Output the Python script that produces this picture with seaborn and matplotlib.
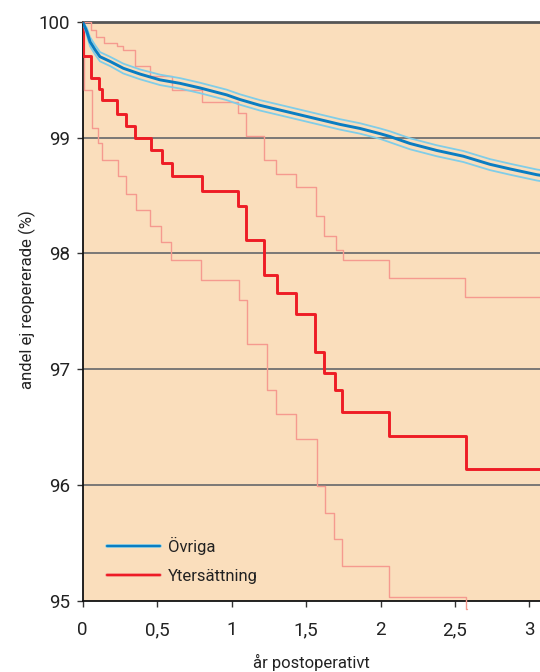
import matplotlib
matplotlib.use("Agg")
import matplotlib.pyplot as plt
import matplotlib.patheffects as pe
from matplotlib.lines import Line2D
import seaborn as sns
import pandas as pd

# ---------------- data ----------------
series_names = ["Övriga", "Ytersättning"]

# Ytersättning (red) – Kaplan-Meier estimate and 95% CI
red_t = [0, 0.004, 0.054, 0.107, 0.128, 0.228, 0.291, 0.352, 0.457, 0.53, 0.598,
         0.80, 1.045, 1.095, 1.22, 1.307, 1.432, 1.557, 1.623, 1.694, 1.739,
         2.055, 2.572, 3.1]
red_y = [100, 99.71, 99.52, 99.42, 99.33, 99.205, 99.10, 99.00, 98.89, 98.78, 98.67,
         98.54, 98.41, 98.12, 97.81, 97.655, 97.48, 97.15, 96.97, 96.82, 96.63,
         96.42, 96.14, 96.14]

red_up_t = [0, 0.055, 0.09, 0.14, 0.23, 0.27, 0.35, 0.45, 0.60, 0.80, 1.045, 1.10,
            1.22, 1.30, 1.43, 1.57, 1.62, 1.70, 1.745, 2.055, 2.57, 3.1]
red_up_y = [100, 99.93, 99.87, 99.82, 99.79, 99.76, 99.62, 99.53, 99.41, 99.31, 99.21,
            99.015, 98.81, 98.69, 98.57, 98.32, 98.15, 98.03, 97.94, 97.79, 97.62, 97.62]

red_lo_t = [0, 0.01, 0.065, 0.105, 0.13, 0.24, 0.29, 0.355, 0.455, 0.525, 0.595,
            0.795, 1.05, 1.105, 1.24, 1.30, 1.435, 1.575, 1.63, 1.69, 1.74, 2.055,
            2.575, 2.58]
red_lo_y = [100, 99.41, 99.08, 98.95, 98.81, 98.67, 98.51, 98.375, 98.24, 98.10, 97.94,
            97.77, 97.60, 97.22, 96.82, 96.61, 96.40, 95.99, 95.76, 95.53, 95.30, 95.03,
            94.93, 94.93]

# Övriga (blue) – estimate and 95% CI
blue_t = [0, 0.027, 0.049, 0.083, 0.116, 0.183, 0.273, 0.385, 0.519, 0.653, 0.788,
          0.967, 1.056, 1.19, 1.37, 1.549, 1.728, 1.862, 1.997, 2.064, 2.198, 2.377,
          2.556, 2.735, 2.87, 3.05, 3.1]
blue_y = [100, 99.92, 99.83, 99.76, 99.70, 99.66, 99.60, 99.55, 99.50, 99.47, 99.43,
          99.37, 99.33, 99.28, 99.225, 99.17, 99.115, 99.08, 99.035, 99.01, 98.95, 98.89,
          98.84, 98.77, 98.73, 98.68, 98.67]
blue_up = [100, 99.95, 99.87, 99.80, 99.74, 99.70, 99.64, 99.59, 99.545, 99.515, 99.475,
           99.415, 99.375, 99.325, 99.27, 99.215, 99.16, 99.125, 99.08, 99.055, 98.995,
           98.935, 98.885, 98.815, 98.775, 98.725, 98.715]
blue_lo = [100, 99.89, 99.79, 99.72, 99.66, 99.62, 99.555, 99.505, 99.455, 99.425, 99.385,
           99.325, 99.285, 99.235, 99.18, 99.125, 99.07, 99.035, 98.99, 98.96, 98.90,
           98.84, 98.79, 98.72, 98.68, 98.63, 98.62]

x_ticks = [0, 0.5, 1, 1.5, 2, 2.5, 3]
x_ticklabels = ["0", "0,5", "1", "1,5", "2", "2,5", "3"]
y_ticks = [95, 96, 97, 98, 99, 100]
y_ticklabels = ["95", "96", "97", "98", "99", "100"]
x_label = "år postoperativt"
y_label = "andel ej reopererade (%)"

# ---------------- style ----------------
sns.set_theme(style="white")
FONT = ["Liberation Sans Narrow", "Roboto", "DejaVu Sans"]
plt.rcParams["font.family"] = FONT

BG = "#FADEBC"
RED = "#EE1C25"
RED_L = "#F59A8F"
BLUE = "#0A7DC2"
BLUE_L = "#80CDE8"
GRID = "#707070"

fig = plt.figure(figsize=(5.40, 6.72), dpi=100)
W, H = 540, 672
x0, x1, y0, y1 = 82.7, 540, 22, 600.5
ax = fig.add_axes([x0 / W, 1 - y1 / H, (x1 - x0) / W, (y1 - y0) / H])
ax.set_facecolor(BG)


def draw(t, y, color, lw, z, clip=True, steps=True):
    df = pd.DataFrame({"t": t, "y": y})
    kw = {"drawstyle": "steps-post"} if steps else {}
    sns.lineplot(data=df, x="t", y="y", ax=ax, color=color, lw=lw,
                 estimator=None, sort=False, zorder=z, clip_on=clip, **kw)


draw(red_up_t, red_up_y, RED_L, 1.0, 3)
draw(red_lo_t, red_lo_y, RED_L, 1.0, 3, clip=False)
draw(red_t, red_y, RED, 2.1, 4)
draw(blue_t, blue_up, BLUE_L, 1.3, 5, steps=False)
draw(blue_t, blue_lo, BLUE_L, 1.3, 5, steps=False)
draw(blue_t, blue_y, BLUE, 2.1, 6, steps=False)

ax.set_xlim(0, (x1 - x0) / 148.9)
ax.set_ylim(95, 100)

for v in [96, 97, 98, 99]:
    ax.axhline(v, color=GRID, lw=1.3, zorder=2)

ax.set_xticks(x_ticks)
ax.set_xticklabels(x_ticklabels)
ax.set_yticks(y_ticks)
ax.set_yticklabels(y_ticklabels)
ax.tick_params(axis="both", which="major", direction="out", length=4, width=1,
               color="#333333", labelsize=13.5, labelcolor="#222222")
ax.tick_params(axis="x", pad=11, bottom=True)
ax.tick_params(axis="y", pad=5, left=True)
ax.set_xlabel("")
ax.set_ylabel("")

ax.spines["right"].set_visible(False)
ax.spines["top"].set_color("#555555")
ax.spines["top"].set_linewidth(2)
ax.spines["left"].set_color("#111111")
ax.spines["left"].set_linewidth(1.3)
ax.spines["bottom"].set_color("#111111")
ax.spines["bottom"].set_linewidth(1.3)

fig.text(27 / W, 1 - 300 / H, y_label, rotation=90, ha="center", va="center",
         fontsize=12, color="#222222")
fig.text(311 / W, 1 - 662 / H, x_label, ha="center", va="center",
         fontsize=12, color="#222222")

handles = [
    Line2D([], [], color=BLUE, lw=1.6,
           path_effects=[pe.Stroke(linewidth=2.6, foreground=BLUE_L), pe.Normal()]),
    Line2D([], [], color=RED, lw=1.6,
           path_effects=[pe.Stroke(linewidth=2.6, foreground=RED_L), pe.Normal()]),
]
ax.legend(handles, series_names, loc="upper left",
          bbox_to_anchor=((107 - x0) / (x1 - x0), (y1 - 537) / (y1 - y0)),
          frameon=False, fontsize=12, handlelength=3.2, handletextpad=0.45,
          labelspacing=0.85, borderpad=0, borderaxespad=0, labelcolor="#222222")

fig.savefig("out.png", dpi=100, facecolor="white")
